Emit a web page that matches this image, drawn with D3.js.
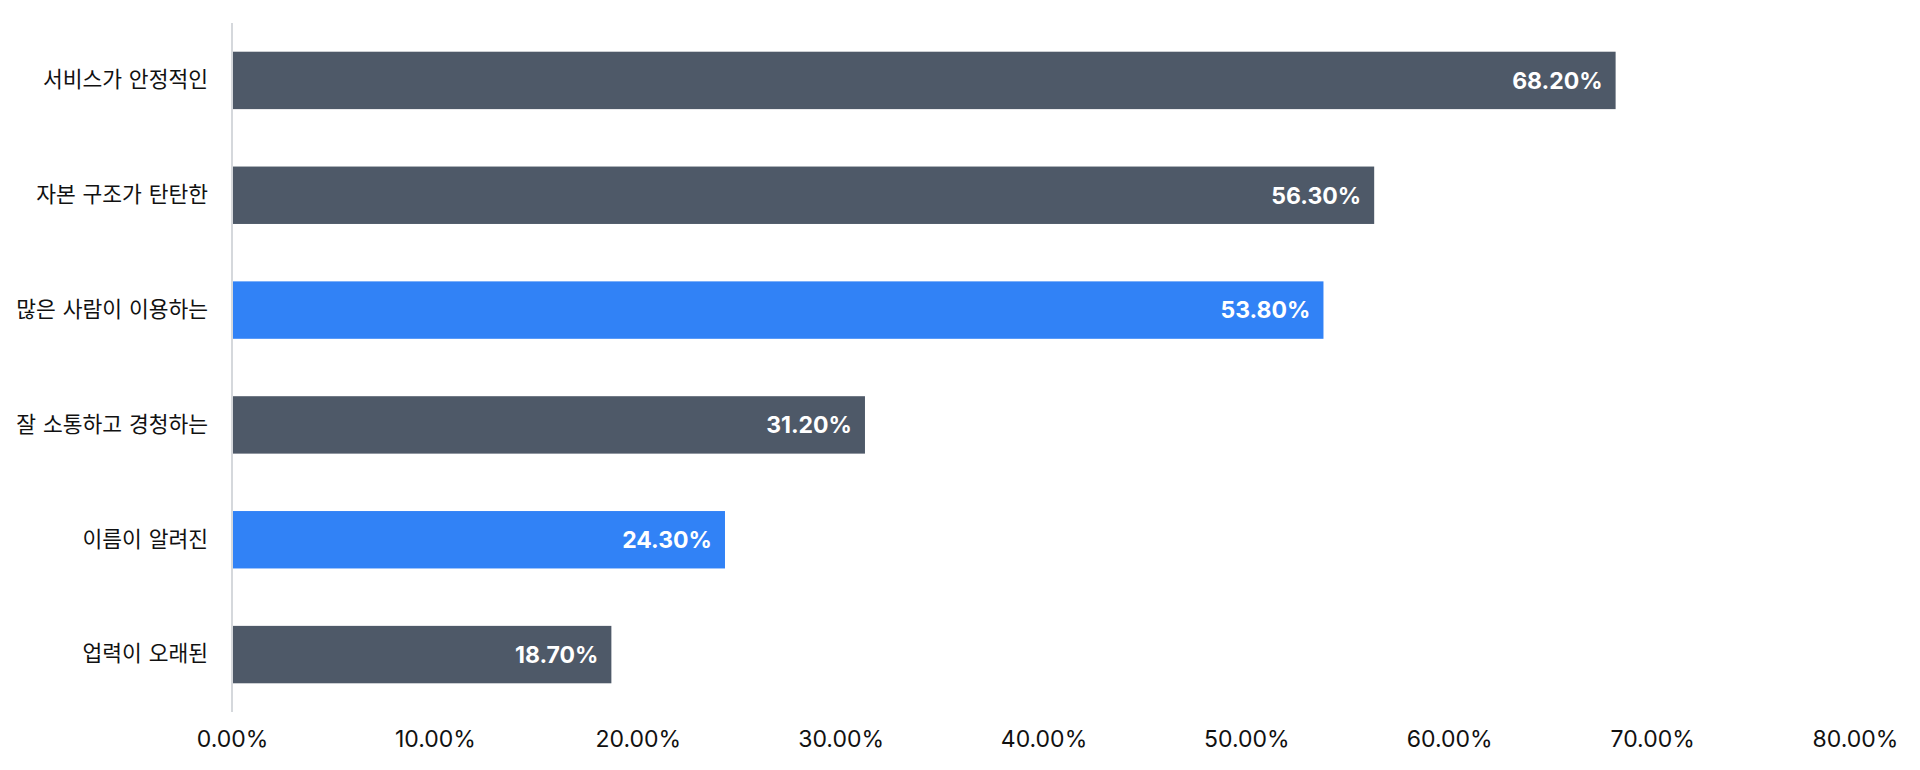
<!DOCTYPE html>
<html>
<head>
<meta charset="utf-8">
<script src="https://cdn.jsdelivr.net/npm/d3@7"></script>
<style>
  html, body { margin: 0; padding: 0; background: #ffffff; }
  svg { display: block; }
</style>
</head>
<body>
<svg id="chart" width="1920" height="770"></svg>
<script>
const categories = ["서비스가 안정적인", "자본 구조가 탄탄한", "많은 사람이 이용하는", "잘 소통하고 경청하는", "이름이 알려진", "업력이 오래된"];
const values = [68.2, 56.3, 53.8, 31.2, 24.3, 18.7];
const highlighted = [false, false, true, false, true, false];
const xTicks = [0, 10, 20, 30, 40, 50, 60, 70, 80];

const svg = d3.select("#chart");
const x0 = 232, x1 = 1855, yTop = 23, yBottom = 712;

const x = d3.scaleLinear().domain([0, 80]).range([x0, x1]);
const y = d3.scaleBand().domain(categories).range([yTop, yBottom]).paddingInner(0.5).paddingOuter(0.25);

// bars
svg.append("g").selectAll("rect").data(categories).join("rect")
  .attr("x", x(0))
  .attr("y", d => y(d))
  .attr("width", (d, i) => x(values[i]) - x(0))
  .attr("height", y.bandwidth())
  .attr("fill", (d, i) => highlighted[i] ? "#3182f6" : "#4e5968");

// left axis line
svg.append("line")
  .attr("x1", x0).attr("x2", x0).attr("y1", yTop).attr("y2", yBottom)
  .attr("stroke", "#d5d8dc").attr("stroke-width", 2);

// category labels
const yAxis = svg.append("g").attr("transform", `translate(${x0},0)`)
  .call(d3.axisLeft(y).tickSize(0).tickPadding(24));
yAxis.select(".domain").remove();
yAxis.selectAll("text")
  .attr("font-family", "'Noto Sans CJK KR', 'Noto Sans', sans-serif")
  .attr("font-size", 21.5)
  .attr("word-spacing", "2px")
  .attr("fill", "#111111");

// x tick labels
const xAxis = svg.append("g").attr("transform", `translate(0,${yBottom})`)
  .call(d3.axisBottom(x).tickValues(xTicks).tickSize(0).tickPadding(19).tickFormat(d => d.toFixed(2) + "%"));
xAxis.select(".domain").remove();
xAxis.selectAll("text")
  .attr("font-family", "Inter, 'Noto Sans', sans-serif")
  .attr("font-size", 23)
  .attr("fill", "#111111");

// value labels
svg.append("g").selectAll("text").data(categories).join("text")
  .attr("x", (d, i) => x(values[i]) - 13)
  .attr("y", d => y(d) + y.bandwidth() / 2)
  .attr("dy", "0.36em")
  .attr("text-anchor", "end")
  .attr("font-family", "Inter, 'Noto Sans', sans-serif")
  .attr("font-weight", 700)
  .attr("font-size", 23)
  .attr("fill", "#ffffff")
  .text((d, i) => values[i].toFixed(2) + "%");
</script>
</body>
</html>
